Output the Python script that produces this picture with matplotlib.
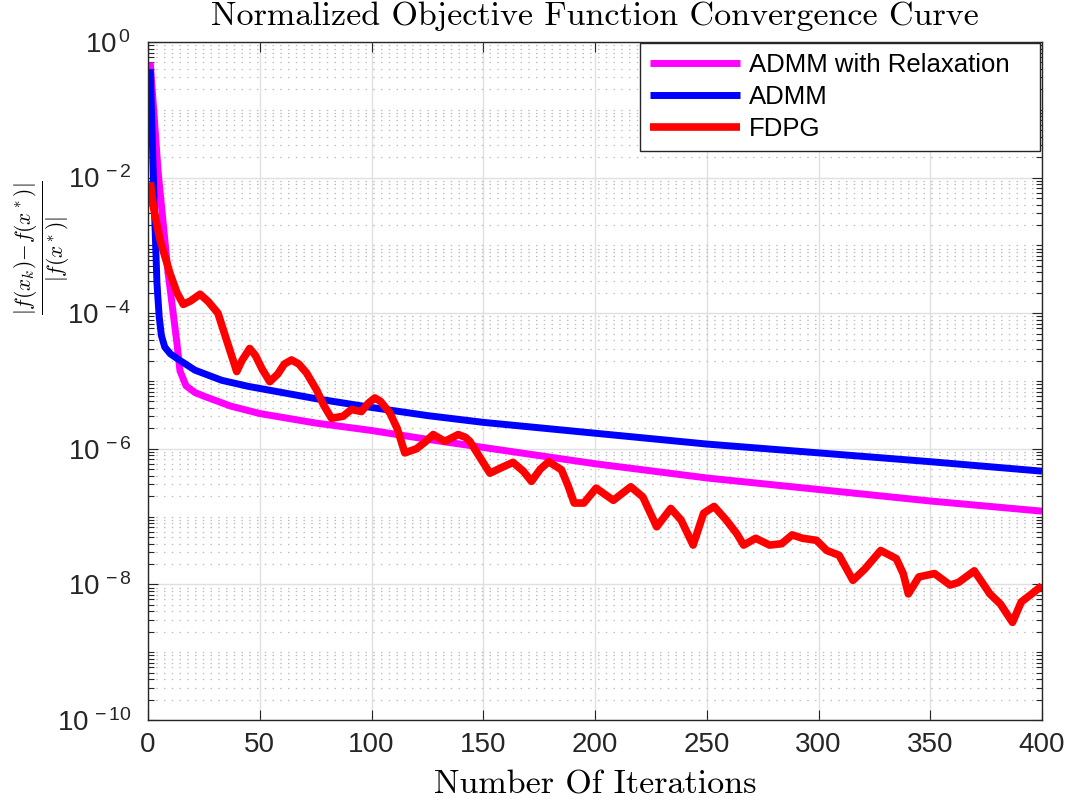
import matplotlib
matplotlib.use('Agg')
import matplotlib.pyplot as plt
import matplotlib.ticker as ticker
import numpy as np

# curves: iteration number and log10 of the normalized error
relax_it = [1, 4.6, 9, 12.8, 14.3, 17, 21, 25.5, 37, 50, 75, 100, 125, 150, 175, 200, 250, 300, 350, 400]
relax_lg = [-0.30, -1.94, -3.41, -4.40, -4.85, -5.07, -5.17, -5.23, -5.37, -5.48, -5.62, -5.73,
            -5.86, -5.98, -6.10, -6.22, -6.43, -6.60, -6.77, -6.92]

admm_it = [1, 2.5, 4, 5, 6, 7.5, 10, 14, 21, 33, 45, 50, 75, 100, 125, 150, 175, 200, 250, 300, 350, 400]
admm_lg = [-0.40, -2.10, -3.55, -4.05, -4.33, -4.50, -4.60, -4.69, -4.84, -4.99, -5.08, -5.11,
           -5.26, -5.39, -5.51, -5.61, -5.69, -5.77, -5.93, -6.06, -6.19, -6.33]

fdpg_it = [1, 2.4, 5.4, 9.8, 13, 15.8, 19, 23.3, 27, 31.3, 35.2, 39.7, 42, 45.5, 48, 51, 54.5, 58,
           61, 64.2, 67.5, 70.9, 75.4, 78.5, 82.1, 87.3, 91, 95.5, 98.5, 101.5, 104, 108.2, 111.5,
           114.9, 120.1, 124, 127.6, 132.8, 138.8, 142, 144, 148, 153, 158, 163.3, 167.9, 171.6,
           175.5, 179.3, 185, 188, 190.7, 195, 200.5, 208.2, 216, 221.4, 227.6, 233.9, 238.5,
           243.9, 248.6, 253.3, 258.7, 263.4, 266.5, 271.9, 278.1, 283.5, 288.2, 292.9, 299.1,
           303.7, 309.2, 315.4, 320.8, 327.8, 334.8, 337.9, 340.2, 344.9, 351.9, 358.9, 362.7,
           369.7, 376.7, 381.4, 386.8, 390.7, 395.4, 400]
fdpg_lg = [-2.07, -2.43, -2.92, -3.41, -3.70, -3.87, -3.82, -3.72, -3.83, -4.00, -4.40, -4.86,
           -4.70, -4.52, -4.62, -4.82, -5.01, -4.90, -4.75, -4.69, -4.75, -4.88, -5.13, -5.35,
           -5.55, -5.52, -5.42, -5.45, -5.33, -5.25, -5.30, -5.47, -5.70, -6.06, -6.00, -5.90,
           -5.79, -5.89, -5.79, -5.83, -5.89, -6.10, -6.36, -6.28, -6.20, -6.33, -6.48, -6.30,
           -6.19, -6.31, -6.55, -6.80, -6.80, -6.58, -6.76, -6.56, -6.71, -7.15, -6.88, -7.05,
           -7.42, -6.95, -6.85, -7.05, -7.25, -7.42, -7.32, -7.42, -7.40, -7.27, -7.32, -7.35,
           -7.50, -7.57, -7.94, -7.77, -7.50, -7.62, -7.84, -8.14, -7.89, -7.84, -8.01, -7.97,
           -7.80, -8.14, -8.29, -8.56, -8.26, -8.14, -8.02]

labels = ['ADMM with Relaxation', 'ADMM', 'FDPG']
colors = ['#ff00ff', '#0000ff', '#ff0000']

plt.rcParams['font.family'] = ['Liberation Sans', 'DejaVu Sans']
plt.rcParams['mathtext.fontset'] = 'custom'
plt.rcParams['mathtext.rm'] = 'Liberation Sans'
plt.rcParams['mathtext.it'] = 'Liberation Sans:italic'

fig = plt.figure(figsize=(10.65, 8.07), dpi=100)
ax = fig.add_axes([148 / 1065, 1 - 720 / 807, 894 / 1065, 678 / 807])

series = [(relax_it, relax_lg), (admm_it, admm_lg), (fdpg_it, fdpg_lg)]
for (it, lg), lab, c, lw in zip(series, labels, colors, [5, 5, 5.5]):
    ax.semilogy(it, 10.0 ** np.array(lg), color=c, lw=lw, label=lab,
                solid_joinstyle='round', solid_capstyle='butt')

ax.set_xlim(0, 400)
ax.set_ylim(1e-10, 1)
ax.set_xticks(np.arange(0, 401, 50))
ax.yaxis.set_major_locator(ticker.FixedLocator([10.0 ** k for k in range(-10, 1, 2)]))
ax.yaxis.set_minor_locator(ticker.LogLocator(base=10, subs=np.arange(1, 10), numticks=50))
ax.yaxis.set_minor_formatter(ticker.NullFormatter())
ax.yaxis.set_major_formatter(ticker.FuncFormatter(
    lambda v, p: r'$\mathregular{10^{\,%d}}$' % round(np.log10(v))))

dark = '#262626'
ax.grid(True, which='major', color='#e0e0e0', lw=1.0)
ax.grid(True, which='minor', axis='y', color='#bdbdbd', lw=0.9, ls=(0, (1.2, 5)))
ax.set_axisbelow(True)
ax.tick_params(which='both', direction='in', top=True, right=True, colors=dark,
               labelsize=20, labelcolor=dark)
ax.tick_params(which='major', length=7, width=0.8)
ax.tick_params(which='minor', length=4, width=0.8)
ax.tick_params(axis='x', pad=9)
ax.tick_params(axis='y', pad=12)
for s in ax.spines.values():
    s.set_color(dark)
    s.set_linewidth(1.0)

# legend box spans the same width as in the picture, text left aligned
x0 = (640 - 148) / 894
leg = ax.legend(loc='upper left', bbox_to_anchor=(x0, 0, 0.998 - x0, 0.9985), mode='expand',
                fontsize=18.5, handlelength=3.5, handletextpad=0.35, labelspacing=0.3,
                borderpad=0.4, borderaxespad=0, fancybox=False, framealpha=1, edgecolor=dark)
leg.get_frame().set_linewidth(1.0)

fig.text(595 / 1065, 1 - 16 / 807, 'Normalized Objective Function Convergence Curve',
         family='cmr10', fontsize=24.5, ha='center', va='center')
fig.text(595 / 1065, 1 - 785 / 807, 'Number Of Iterations',
         family='cmr10', fontsize=24.5, ha='center', va='center')
fig.text(42 / 1065, 1 - 248 / 807, r'$\frac{|f(x_k)\!-\!f(x^*)|}{|f(x^*)|}$',
         math_fontfamily='cm', fontsize=22, rotation=90, ha='center', va='center')

fig.savefig('out.png', dpi=100)
